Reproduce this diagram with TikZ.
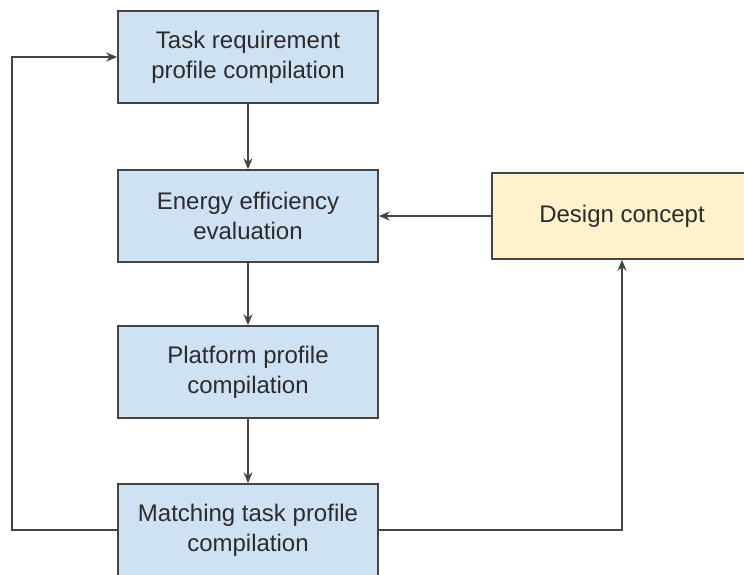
\documentclass[tikz,border=0pt]{standalone}
\usepackage{fontspec}
\setmainfont{Liberation Sans}
\usetikzlibrary{arrows.meta}
\definecolor{boxblue}{HTML}{CFE2F3}
\definecolor{boxyellow}{HTML}{FFF2CC}
\definecolor{linegray}{HTML}{444444}
\definecolor{textgray}{HTML}{2B2B2B}
\tikzset{stage/.style={draw=linegray,line width=0.8pt,fill=boxblue,minimum width=130pt,minimum height=46pt,
  align=center,inner sep=0pt,text=textgray,font=\fontsize{12}{15}\selectfont}}
\begin{document}
\begin{tikzpicture}[x=0.5pt,y=-0.5pt,>={Stealth[length=5.5pt,width=4.5pt]},line width=0.8pt]
\useasboundingbox (0,0) rectangle (744,574);
\node[stage] (task) at (248,57) {Task requirement\\profile compilation};
\node[stage] (energy) at (248,216) {Energy efficiency\\evaluation};
\node[stage] (platform) at (248,372) {Platform profile\\compilation};
\node[stage] (matching) at (248,530) {Matching task profile\\compilation};
\node[stage,fill=boxyellow,minimum height=43pt] (design) at (622,216) {Design concept};
\coordinate (loop) at (12,530);
\draw[->,linegray] (task) -- (energy);
\draw[->,linegray] (energy) -- (platform);
\draw[->,linegray] (platform) -- (matching);
\draw[->,linegray] (design) -- (energy);
\draw[->,linegray] (matching.east) -| (design.south);
\draw[->,linegray] (matching.west) -- (loop) |- (task.west);
\end{tikzpicture}
\end{document}
